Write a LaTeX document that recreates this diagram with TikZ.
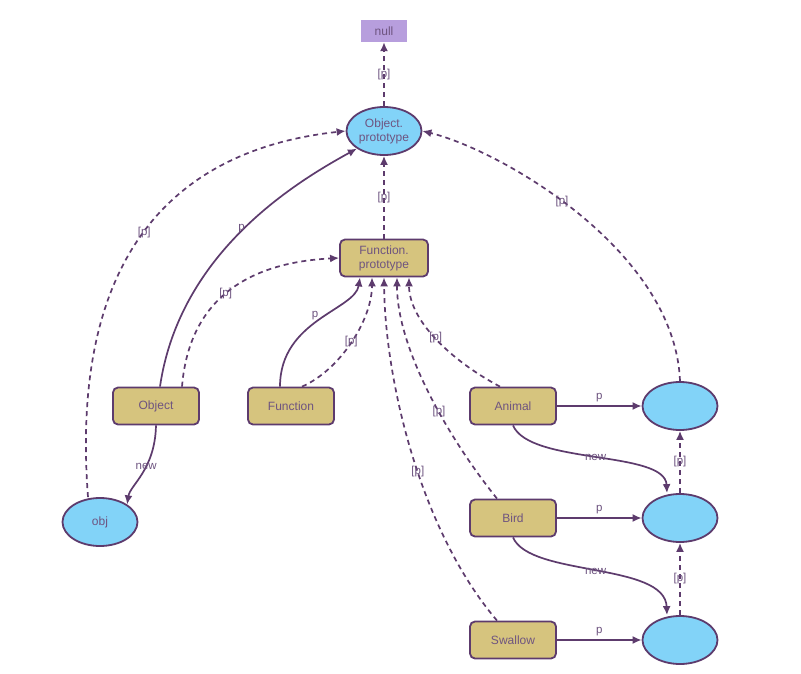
\documentclass[tikz,border=0pt]{standalone}
\usepackage{fontspec}
\setmainfont{Liberation Sans}
\usepackage{xcolor}
\usetikzlibrary{arrows.meta, shapes.geometric, calc}
\definecolor{edgec}{HTML}{5D3B6D}
\definecolor{textc}{HTML}{6E5480}
\definecolor{protofill}{HTML}{82D3F8}
\definecolor{classfill}{HTML}{D6C47E}
\definecolor{nullfill}{HTML}{B79EDD}
\tikzset{
    >={Latex[length=9pt, width=8pt]},
    classbox/.style={draw=edgec, line width=1.8pt, fill=classfill, rounded corners=5pt,
        minimum width=86pt, minimum height=37pt, text=textc, font=\fontsize{12}{14}\selectfont, align=center},
    proto/.style={ellipse, draw=edgec, line width=1.8pt, fill=protofill,
        minimum width=75pt, minimum height=48pt, text=textc, font=\fontsize{12}{14}\selectfont, align=center, inner sep=0pt},
    nullbox/.style={fill=nullfill, minimum width=46pt, minimum height=22pt, text=textc, font=\fontsize{12}{14}\selectfont},
    link/.style={->, draw=edgec, line width=1.7pt},
    chain/.style={link, dash pattern=on 5pt off 4pt},
    lbl/.style={text=textc, font=\fontsize{11.5}{13}\selectfont, inner sep=1pt},
}
\begin{document}
\begin{tikzpicture}[x=1pt, y=-1pt]
    \useasboundingbox[fill=white] (0,0) rectangle (801,673);
    % prototype objects
    \node[nullbox] (null) at (384,31) {null};
    \node[proto] (objproto) at (384,131) {Object.\\prototype};
    \node[classbox, minimum width=88pt] (funproto) at (384,258) {Function.\\prototype};
    % constructors
    \node[classbox] (Object) at (156,406) {Object};
    \node[classbox] (Function) at (291,406) {Function};
    \node[classbox] (Animal) at (513,406) {Animal};
    \node[classbox] (Bird) at (513,518) {Bird};
    \node[classbox] (Swallow) at (513,640) {Swallow};
    % instances and their prototypes
    \node[proto] (obj) at (100,522) {obj};
    \foreach \n/\y in {animalproto/406, birdproto/518, swallowproto/640}
        \node[proto] (\n) at (680,\y) {};

    \draw[chain] (objproto) -- (null) node[lbl, pos=0.5] {[p]};
    \draw[chain] (funproto) -- (objproto) node[lbl, pos=0.5] {[p]};
    \draw[link] ($(Object.north)+(4,0)$) .. controls (180,250) and (300,180) .. (objproto.south west) node[lbl, pos=0.5, left=-2pt] {p};
    \draw[chain] ($(Object.north)+(26,0)$) .. controls (190,290) and (260,262) .. (funproto.west) node[lbl, pos=0.45] {[p]};
    \draw[link] (Object.south) .. controls (155,470) and (130,485) .. (obj.north east) node[lbl, pos=0.4] {new};
    \draw[chain] ($(obj.north)+(-12,0)$) .. controls (70,260) and (170,150) .. (objproto.west) node[lbl, pos=0.5] {[p]};
    \draw[link] ($(Function.north)+(-11,0)$) .. controls (280,320) and (355,310) .. ($(funproto.south)+(-24,0)$) node[lbl, pos=0.5, above left=-2pt] {p};
    \draw[chain] ($(Function.north)+(11,0)$) .. controls (340,370) and (372,320) .. ($(funproto.south)+(-12,0)$) node[lbl, pos=0.5] {[p]};
    \draw[chain] ($(Animal.north)+(-13,0)$) .. controls (450,360) and (409,320) .. ($(funproto.south)+(25,0)$) node[lbl, pos=0.5] {[p]};
    \draw[chain] ($(Bird.north)+(-16,0)$) .. controls (450,440) and (397,350) .. ($(funproto.south)+(13,0)$) node[lbl, pos=0.42] {[p]};
    \draw[chain] ($(Swallow.north)+(-16,0)$) .. controls (420,530) and (385,380) .. (funproto.south) node[lbl, pos=0.45] {[p]};
    \draw[chain] (animalproto.north) .. controls (675,250) and (500,150) .. (objproto.east) node[lbl, pos=0.55] {[p]};
    % own prototypes
    \foreach \c/\p in {Animal/animalproto, Bird/birdproto, Swallow/swallowproto}
        \draw[link] (\c) -- (\p) node[lbl, pos=0.5, above=2pt] {p};
    \draw[link] (Animal.south) .. controls (530,465) and (665,450) .. ($(birdproto.north)+(-13,0)$) node[lbl, pos=0.5] {new};
    \draw[link] (Bird.south) .. controls (530,577) and (665,562) .. ($(swallowproto.north)+(-13,0)$) node[lbl, pos=0.5] {new};
    \draw[chain] (birdproto) -- (animalproto) node[lbl, pos=0.5] {[p]};
    \draw[chain] (swallowproto) -- (birdproto) node[lbl, pos=0.5] {[p]};
\end{tikzpicture}
\end{document}
